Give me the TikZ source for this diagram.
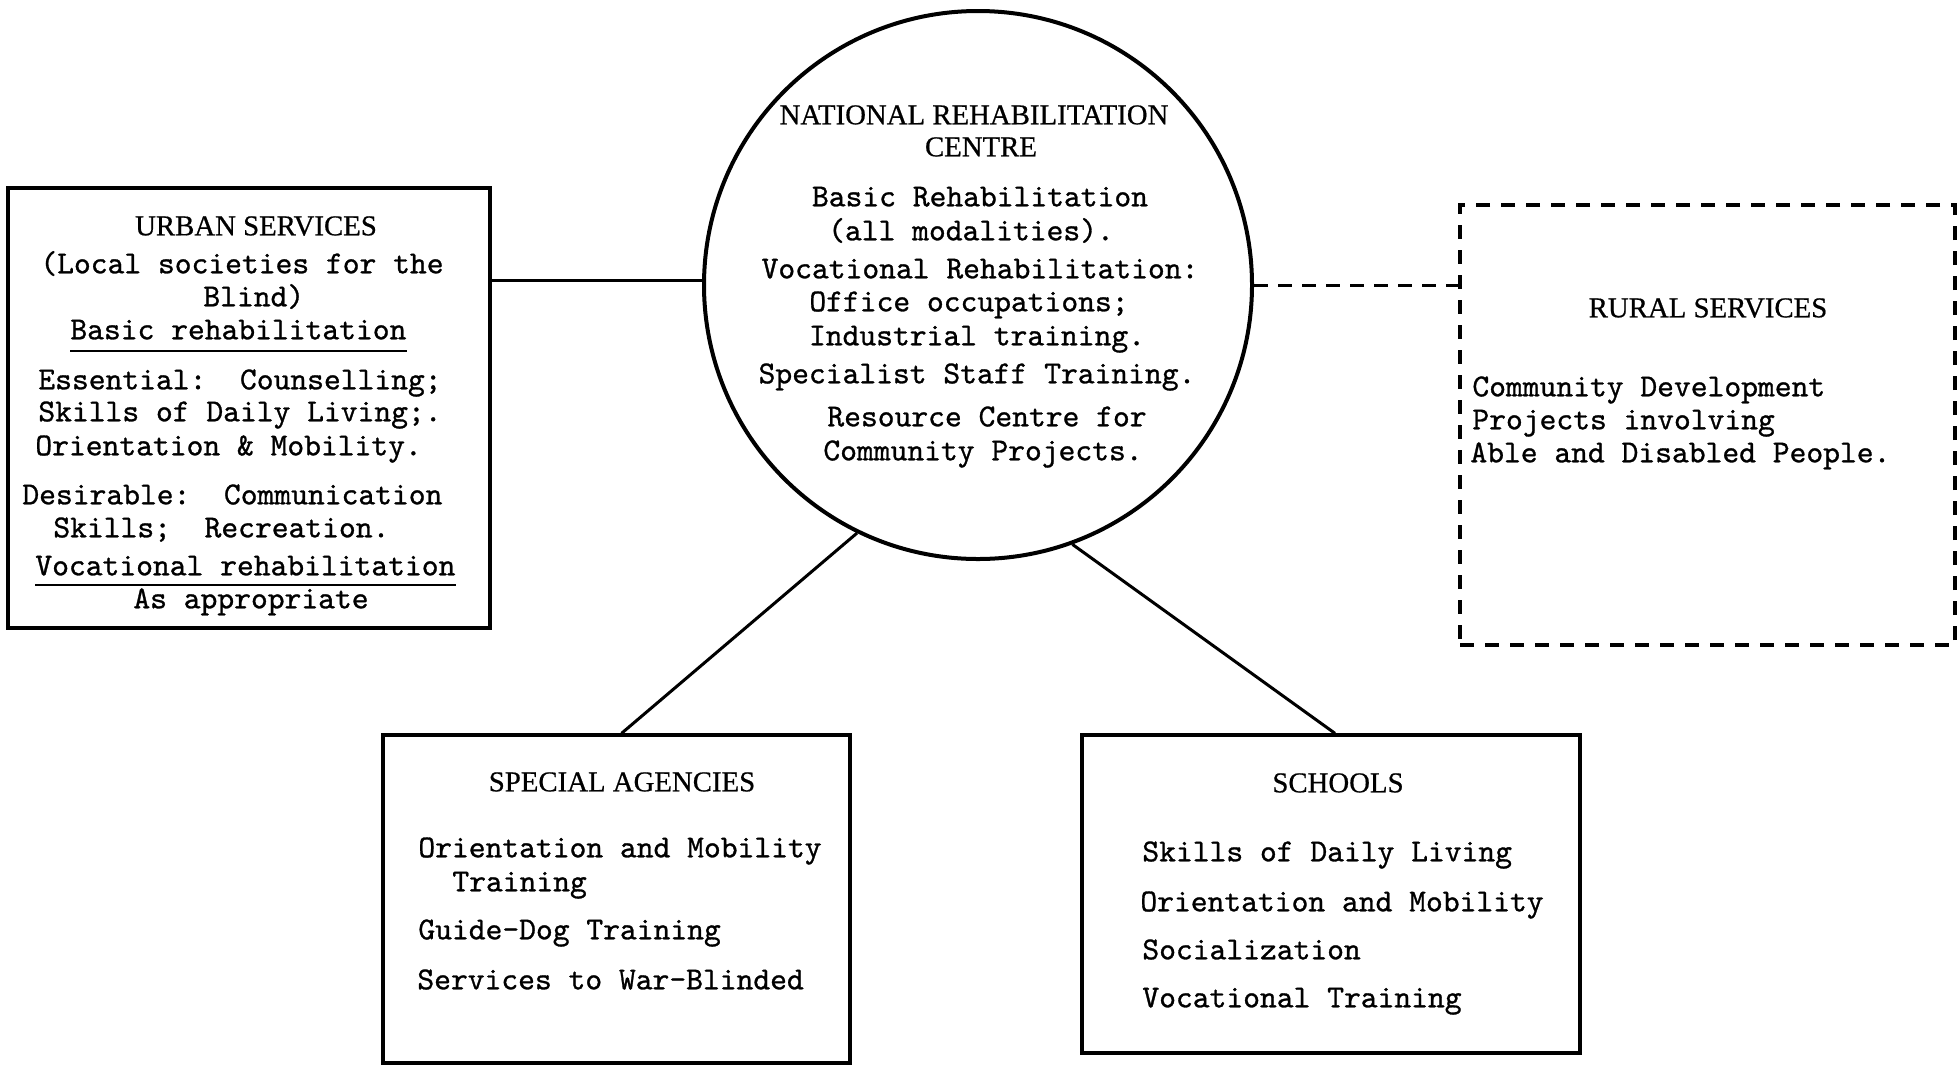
\documentclass[tikz,border=0pt]{standalone}
\usepackage{fontspec}
\newfontfamily\twfont{lmmono10-regular.otf}[FakeBold=0.9]
\newfontfamily\hdfont{Liberation Serif}[FakeBold=0.6]
\begin{document}
\begin{tikzpicture}[x=0.5pt,y=-0.5pt,
  tw/.style={inner sep=0pt,font=\fontsize{16pt}{17pt}\twfont,yshift=-2.5pt},
  twl/.style={tw,anchor=mid west},
  twc/.style={tw,anchor=mid},
  hd/.style={inner sep=0pt,anchor=mid,font=\fontsize{14.4pt}{16pt}\hdfont,yshift=-2.5pt},
  frame/.style={draw,line width=1.65pt,inner sep=0pt},
  link/.style={line width=1.5pt},
  dlink/.style={line width=1.5pt,dash pattern=on 7pt off 5pt},
  uline/.style={line width=1pt}]
\useasboundingbox (0,0) rectangle (1959,1067);

% frames
\node[frame,minimum width=241pt,minimum height=220pt] (urban) at (249,408) {};
\node[draw,circle,line width=2pt,minimum size=274pt,inner sep=0pt] (nrc) at (978,285) {};
\node[frame,dash pattern=on 7pt off 5.5pt,minimum width=247.5pt,minimum height=220pt] (rural) at (1707.5,425) {};
\node[frame,minimum width=233.5pt,minimum height=164pt] (spec) at (616.5,899) {};
\node[frame,minimum width=249pt,minimum height=159pt] (school) at (1331,894) {};

% connectors
\draw[link] (nrc.179) -- (nrc.179 -| urban.east);
\draw[dlink] (nrc.east) -- (nrc.east -| rural.west);
\draw[link] (nrc.244) -- ([xshift=2.5pt]spec.north);
\draw[link] (nrc.290) -- ([xshift=2pt]school.north);

% urban services
\node[hd] (u0) at (256,226) {URBAN SERVICES};
\node[twl] (u1) at (40,264) {(Local societies for the};
\node[twl] (u2) at (203,297) {Blind)};
\node[twl] (u3) at (70,330) {Basic rehabilitation};
\node[twl] (u4) at (38,380) {Essential:\ \ Counselling;};
\node[twl] (u5) at (38,412) {Skills of Daily Living;.};
\node[twl] (u6) at (35,446) {Orientation \& Mobility.};
\node[twl] (u7) at (22,495) {Desirable:\ \ Communication};
\node[twl] (u8) at (53,528) {Skills;\ \ Recreation.};
\node[twl] (u9) at (35,566) {Vocational rehabilitation};
\node[twl] (u10) at (133,599) {As appropriate};
\draw[uline] ([yshift=-5.5pt]u3.south west) -- ([yshift=-5.5pt]u3.south east);
\draw[uline] ([yshift=-4.5pt]u9.south west) -- ([yshift=-4.5pt]u9.south east);

% national centre
\node[hd] (n0) at (974,115) {NATIONAL REHABILITATION};
\node[hd] (n1) at (981,147) {CENTRE};
\node[twc] (n2) at (980,197) {Basic Rehabilitation};
\node[twc] (n3) at (971,231) {(all modalities).};
\node[twc] (n4) at (980,269) {Vocational Rehabilitation:};
\node[twc] (n5) at (969,302) {Office occupations;};
\node[twc] (n6) at (977,336) {Industrial training.};
\node[twc] (n7) at (977,374) {Specialist Staff Training.};
\node[twc] (n8) at (987,417) {Resource Centre for};
\node[twc] (n9) at (983,451) {Community Projects.};

% rural services
\node[hd] (r0) at (1708,308) {RURAL SERVICES};
\node[twl] (r1) at (1472,387) {Community Development};
\node[twl] (r2) at (1472,420) {Projects involving};
\node[twl] (r3) at (1470,453) {Able and Disabled People.};

% special agencies
\node[hd] (s0) at (622,782) {SPECIAL AGENCIES};
\node[twl] (s1) at (418,848) {Orientation and Mobility};
\node[twl] (s2) at (452,882) {Training};
\node[twl] (s3) at (418,930) {Guide-Dog Training};
\node[twl] (s4) at (417,980) {Services to War-Blinded};

% schools
\node[hd] (c0) at (1338,783) {SCHOOLS};
\node[twl] (c1) at (1142,852) {Skills of Daily Living};
\node[twl] (c2) at (1140,902) {Orientation and Mobility};
\node[twl] (c3) at (1142,950) {Socialization};
\node[twl] (c4) at (1142,998) {Vocational Training};
\end{tikzpicture}
\end{document}
